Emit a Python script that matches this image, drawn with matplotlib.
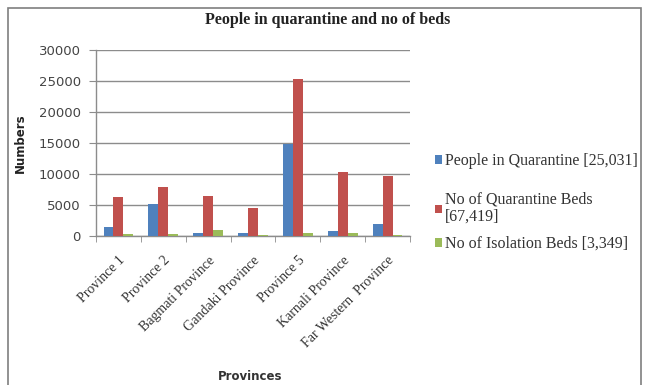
import matplotlib
matplotlib.use("Agg")
import matplotlib.pyplot as plt
import numpy as np
from matplotlib.patches import Rectangle
from matplotlib.ticker import FixedLocator

provinces = ["Province 1", "Province 2", "Bagmati Province", "Gandaki Province",
             "Province 5", "Karnali Province", "Far Western  Province"]
people_in_quarantine = [1400, 5100, 500, 500, 14900, 800, 2000]
quarantine_beds = [6350, 7950, 6500, 4450, 25400, 10350, 9700]
isolation_beds = [250, 250, 1000, 100, 500, 500, 100]
series_labels = ["People in Quarantine [25,031]",
                 "No of Quarantine Beds\n[67,419]",
                 "No of Isolation Beds [3,349]"]
colors = ["#4F81BD", "#C0504D", "#9BBB59"]

W, H = 649, 385
fig = plt.figure(figsize=(W / 100, H / 100), dpi=100)
ax = fig.add_axes([96 / W, 1 - 236 / H, (410 - 96) / W, (236 - 50) / H])

x = np.arange(len(provinces))
bw = 0.22
handles = []
for i, (vals, c) in enumerate(zip([people_in_quarantine, quarantine_beds, isolation_beds], colors)):
    b = ax.bar(x + (i - 1) * bw, vals, width=bw, color=c, zorder=3)
    handles.append(b)

ax.set_xlim(-0.5, len(provinces) - 0.5)
ax.set_ylim(0, 30000)
ax.set_yticks(np.arange(0, 30001, 5000))
ax.yaxis.grid(True, color="#8c8c8c", linewidth=1.0, zorder=0)

for s in ["top", "right"]:
    ax.spines[s].set_visible(False)
for s in ["left", "bottom"]:
    ax.spines[s].set_color("#8c8c8c")
    ax.spines[s].set_linewidth(1.0)

ax.set_xticks(x)
ax.set_xticklabels(provinces, rotation=45, ha="right", rotation_mode="anchor",
                   family="Liberation Serif", fontsize=10, color="#333333")
ax.tick_params(axis="x", length=0, pad=13)
ax.xaxis.set_minor_locator(FixedLocator(np.arange(-0.5, len(provinces), 1.0)))
ax.tick_params(axis="x", which="minor", length=4, color="#8c8c8c")
ax.tick_params(axis="y", length=5, color="#8c8c8c", labelsize=9.5, labelcolor="#444444", pad=6)
for t in ax.get_yticklabels():
    t.set_family("DejaVu Sans")

fig.text(20 / W, 1 - 143 / H, "Numbers", rotation=90, ha="center", va="center",
         family="DejaVu Sans", fontweight="bold", fontsize=8.5, color="#222222")
fig.text(250 / W, 1 - 377 / H, "Provinces", ha="center", va="center",
         family="DejaVu Sans", fontweight="bold", fontsize=8.5, color="#333333")

fig.text(328 / W, 1 - 20 / H, "People in quarantine and no of beds", ha="center", va="center",
         family="Liberation Serif", fontweight="bold", fontsize=11.5, color="#222222")

# one legend box per series so each entry sits at its own height
legend_y = [161, 208.5, 244]
for h, lab, yy in zip(handles, series_labels, legend_y):
    leg = fig.legend([h], [lab], loc="center left", bbox_to_anchor=(435 / W, 1 - yy / H),
                     frameon=False, prop={"family": "Liberation Serif", "size": 11.5},
                     handlelength=0.45, handleheight=0.45, handletextpad=0.15,
                     borderaxespad=0, borderpad=0)
    for t in leg.get_texts():
        t.set_color("#333333")
        t.set_linespacing(1.1)

fig.patches.append(Rectangle((8 / W, -0.05), (641 - 8) / W, 1 - 8 / H + 0.05,
                             transform=fig.transFigure, fill=False,
                             edgecolor="#7f7f7f", linewidth=1.2))

fig.savefig("out.png", dpi=100)
